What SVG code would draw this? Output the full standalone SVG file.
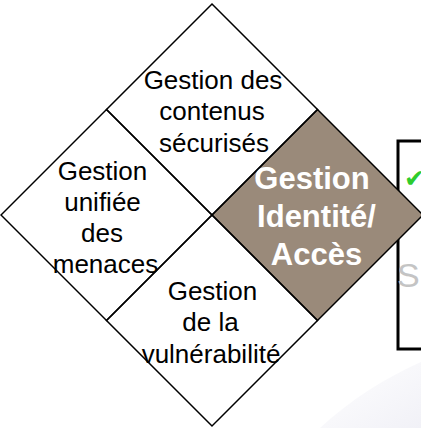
<svg xmlns="http://www.w3.org/2000/svg" width="421" height="428" viewBox="0 0 421 428">
  <defs>
    <linearGradient id="shade" x1="0" y1="0" x2="1" y2="1">
      <stop offset="0" stop-color="#ffffff"/>
      <stop offset="1" stop-color="#f1f1f7"/>
    </linearGradient>
    <style>
      .dia { stroke: #000; stroke-width: 1.5; stroke-linejoin: miter; }
      .white { fill: none; }
      .brown { fill: #9a8a7a; }
      .t { font-family: "Liberation Sans", Arial, sans-serif; font-size: 26px; fill: #000; text-anchor: middle; }
      .tb { font-family: "Liberation Sans", Arial, sans-serif; font-size: 31px; font-weight: bold; fill: #ffffff; text-anchor: middle; }
    </style>
  </defs>
  <rect x="0" y="0" width="421" height="428" fill="#ffffff"/>
  <path d="M320,428 C350,400 385,378 421,362 L421,428 Z" fill="url(#shade)"/>

  <g id="box">
    <rect x="398" y="141" width="40" height="208" fill="#ffffff" stroke="#000" stroke-width="3"/>
    <text x="404" y="187" font-family="DejaVu Sans, sans-serif" font-size="25" fill="#2ecc2e">✔</text>
    <text x="397" y="287" font-family="Liberation Sans, Arial, sans-serif" font-size="34" fill="#c4c4c4">S</text>
  </g>

  <g id="node-identite">
    <polygon class="dia brown" points="317.5,109.5 423,215 317.5,320.5 212,215"/>
    <text class="tb" x="312" y="189">Gestion</text>
    <text class="tb" x="316.5" y="227">Identité/</text>
    <text class="tb" x="316.5" y="265">Accès</text>
  </g>

  <g id="node-contenus">
    <polygon class="dia white" points="212,4 317.5,109.5 212,215 106.5,109.5"/>
    <text class="t" x="213" y="89">Gestion des</text>
    <text class="t" x="212" y="120">contenus</text>
    <text class="t" x="214" y="152">sécurisés</text>
  </g>

  <g id="node-menaces">
    <polygon class="dia white" points="106.5,109.5 212,215 106.5,320.5 1,215"/>
    <text class="t" x="102.5" y="180">Gestion</text>
    <text class="t" x="102.5" y="211">unifiée</text>
    <text class="t" x="102" y="242">des</text>
    <text class="t" x="105.5" y="273">menaces</text>
  </g>

  <g id="node-vulnerabilite">
    <polygon class="dia white" points="212,215 317.5,320.5 212,426 106.5,320.5"/>
    <text class="t" x="212.5" y="300">Gestion</text>
    <text class="t" x="210.5" y="331">de la</text>
    <text class="t" x="211" y="363">vulnérabilité</text>
  </g>

  <g id="connectors"/>
</svg>
